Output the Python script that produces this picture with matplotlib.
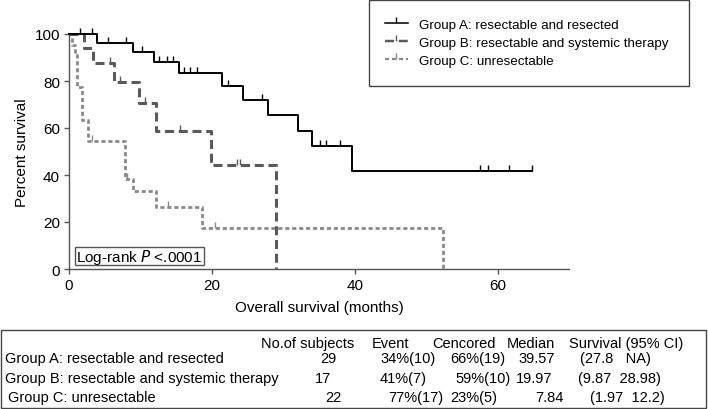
import matplotlib

matplotlib.use("Agg")
import matplotlib.pyplot as plt
from matplotlib.lines import Line2D
from matplotlib.patches import Rectangle

plt.rcParams["font.family"] = ["Liberation Sans", "DejaVu Sans"]
plt.rcParams["lines.scale_dashes"] = False

# Kaplan-Meier steps (time in months, survival in %)
a_times = [0, 3.9, 8.9, 11.9, 15.4, 21.4, 24.3, 27.8, 32.0, 34.0, 39.6, 64.8]
a_surv = [100, 96.2, 92.2, 87.9, 83.4, 77.7, 71.9, 65.4, 58.7, 52.2, 41.6, 41.6]
a_cens_t = [1.5, 3.2, 5.5, 8.0, 10.2, 12.6, 13.7, 14.5, 16.1, 17.0, 17.9,
            22.3, 27.0, 35.1, 36.0, 37.9, 57.6, 58.6, 61.6, 64.8]
a_cens_s = [100, 100, 96.2, 96.2, 92.2, 87.9, 87.9, 87.9, 83.4, 83.4, 83.4,
            77.7, 71.9, 52.2, 52.2, 52.2, 41.6, 41.6, 41.6, 41.6]

b_times = [0, 2.1, 3.3, 6.3, 9.8, 12.2, 19.9, 29.0]
b_surv = [100, 94.0, 87.5, 79.4, 70.6, 58.8, 44.2, 0]
b_cens_t = [5.7, 7.1, 10.6, 15.5, 23.5, 24.0]
b_cens_s = [87.5, 79.4, 70.6, 58.8, 44.2, 44.2]

c_times = [0, 0.4, 0.8, 1.1, 1.8, 2.7, 7.84, 9.0, 12.2, 18.6, 52.4]
c_surv = [100, 95.5, 90.9, 77.3, 63.6, 54.5, 38.5, 33.0, 26.5, 17.5, 0]
c_cens_t = [3.2, 8.1, 13.9, 20.4]
c_cens_s = [54.5, 38.5, 26.5, 17.5]

group_labels = [
    "Group A: resectable and resected",
    "Group B: resectable and systemic therapy",
    "Group C: unresectable",
]
n_subjects = [29, 17, 22]
event_pct = [34, 41, 77]
event_n = [10, 7, 17]
cens_pct = [66, 59, 23]
cens_n = [19, 10, 5]
medians = ["39.57", "19.97", "7.84"]
ci_low = ["27.8", "9.87", "1.97"]
ci_high = ["NA", "28.98", "12.2"]
header = ["No.of subjects", "Event", "Cencored", "Median", "Survival (95% CI)"]

W, H = 708, 410

fig = plt.figure(figsize=(W / 100, H / 100), dpi=100)
ax = fig.add_axes([69 / W, 1 - 270 / H, 500 / W, 235 / H])

styles = [
    dict(color="black", lw=1.4, dashes=(None, None)),
    dict(color="#5a5a5a", lw=2.2, dashes=(6.5, 3.4)),
    dict(color="#8a8a8a", lw=2.0, dashes=(3.0, 2.0)),
]
curves = [
    (a_times, a_surv, a_cens_t, a_cens_s),
    (b_times, b_surv, b_cens_t, b_cens_s),
    (c_times, c_surv, c_cens_t, c_cens_s),
]

for idx in (2, 1, 0):
    times, surv, ct, cs = curves[idx]
    st = styles[idx]
    (line,) = ax.step(times, surv, where="post", color=st["color"], lw=st["lw"],
                      clip_on=False, zorder=3 + (2 - idx))
    if idx > 0:
        line.set_dashes(st["dashes"])
    ax.plot(ct, cs, linestyle="none", marker=2, markersize=4, mew=1.0,
            color=st["color"], clip_on=False, zorder=3 + (2 - idx))

ax.set_xlim(0, 70)
ax.set_ylim(0, 100)
ax.set_xticks([0, 20, 40, 60])
ax.set_yticks([0, 20, 40, 60, 80, 100])
for side in ("top", "right"):
    ax.spines[side].set_visible(False)
for side in ("left", "bottom"):
    ax.spines[side].set_color("#555555")
    ax.spines[side].set_linewidth(1.0)
ax.tick_params(direction="out", length=3.5, width=1.0, color="#555555",
               labelsize=11, pad=3)
ax.set_xlabel("Overall survival (months)", fontsize=11, labelpad=6)
ax.set_ylabel("Percent survival", fontsize=11, labelpad=4)

# log-rank box
ax.add_patch(Rectangle((0.84, 1.7), 18.06, 7.7, fill=False, edgecolor="#555555",
                       lw=1.0, clip_on=False, zorder=6))
ax.text(9.87, 5.5, "Log-rank $\\it{P}$ <.0001", ha="center", va="center",
        fontsize=11, zorder=7)

# legend
handles = []
for st in styles:
    h = Line2D([0], [0], color=st["color"], lw=st["lw"] * 0.8, marker=2,
               markersize=4, mew=1.0)
    if st["dashes"][0] is not None:
        h.set_dashes(st["dashes"])
    handles.append(h)
fig.legend(handles, group_labels, loc="center left",
           bbox_to_anchor=(385 / W, 1 - 43.5 / H), frameon=False, fontsize=9.6,
           handlelength=1.7, handletextpad=0.85, labelspacing=0.42,
           borderpad=0, borderaxespad=0, numpoints=1)
fig.patches.append(Rectangle((369 / W, 1 - 87 / H), 320 / W, 86 / H, fill=False,
                             edgecolor="#444444", lw=1.0, transform=fig.transFigure))

# summary table
fig.patches.append(Rectangle((1 / W, 1 / H), 705 / W, 78 / H, fill=False,
                             edgecolor="#444444", lw=1.0, transform=fig.transFigure))
header_x = [261, 372, 432, 507, 569]
for hx, txt in zip(header_x, header):
    fig.text(hx / W, 1 - 344 / H, txt, ha="left", va="center", fontsize=10.5)

row_y = [359.5, 379, 398.5]
label_x = [5, 5, 8]
col_x = [
    [320, 380, 450, 518, 580],
    [315, 380, 455, 516, 578],
    [325, 388, 450, 535, 590],
]
ci_gap = ["   ", "  ", "  "]
for i in range(3):
    y = 1 - row_y[i] / H
    fig.text(label_x[i] / W, y, group_labels[i], ha="left", va="center", fontsize=10.5)
    cells = [
        f"{n_subjects[i]}",
        f"{event_pct[i]}%({event_n[i]})",
        f"{cens_pct[i]}%({cens_n[i]})",
        medians[i],
        f"({ci_low[i]}{ci_gap[i]}{ci_high[i]})",
    ]
    for cx, txt in zip(col_x[i], cells):
        fig.text(cx / W, y, txt, ha="left", va="center", fontsize=10.5)

fig.savefig("out.png", dpi=100)
